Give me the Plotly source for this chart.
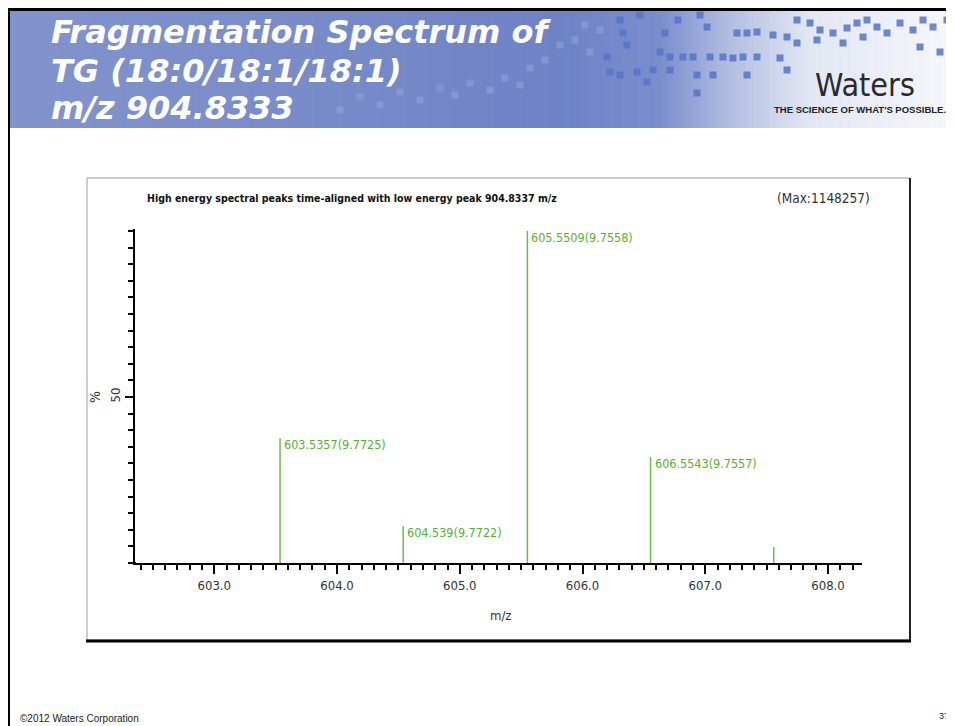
import plotly.graph_objects as go

# ---------------- data ----------------
peak_mz = [603.5357, 604.539, 605.5509, 606.5543, 607.558]
peak_intensity = [37.6, 11.1, 100.0, 31.9, 4.8]
peak_labels = ["603.5357(9.7725)", "604.539(9.7722)", "605.5509(9.7558)", "606.5543(9.7557)", ""]
x_ticks = [603.0, 604.0, 605.0, 606.0, 607.0, 608.0]
y_ticks = [50]

header_lines = ["Fragmentation Spectrum of", "TG (18:0/18:1/18:1)", "m/z 904.8333"]
chart_title = "High energy spectral peaks time-aligned with low energy peak 904.8337 m/z"
max_text = "(Max:1148257)"

# page is offset by the default 8px body margin
OFF = 8
W, H = 954 - OFF, 726 - OFF
def px(x):
    return (x - OFF) / W
def py(y):
    return 1 - (y - OFF) / H

NARROW = "DejaVu Sans Condensed, Liberation Sans Narrow, Liberation Sans, sans-serif"
GREEN_LINE = "#6CBF42"
GREEN_TEXT = "#58B030"

# stems
xs, ys = [], []
for m, v in zip(peak_mz, peak_intensity):
    xs += [m, m, None]
    ys += [0, v, None]

fig = go.Figure()
fig.add_trace(go.Scatter(x=xs, y=ys, mode="lines",
                         line=dict(color=GREEN_LINE, width=1.5),
                         hoverinfo="skip", showlegend=False))

shapes = []
# header gradient
stops = [(10, (130, 147, 204)), (300, (121, 140, 201)), (560, (110, 130, 198)),
         (660, (122, 141, 205)), (730, (178, 190, 226)), (810, (226, 231, 243)),
         (954, (246, 247, 251))]
def col_at(x):
    for (x0, c0), (x1, c1) in zip(stops[:-1], stops[1:]):
        if x0 <= x <= x1:
            t = (x - x0) / (x1 - x0)
            return "rgb(%d,%d,%d)" % tuple(round(a + (b - a) * t) for a, b in zip(c0, c1))
    return "rgb(%d,%d,%d)" % stops[-1][1]
step = 4
x = 10
while x < 954:
    shapes.append(dict(type="rect", xref="paper", yref="paper",
                       x0=px(x), x1=px(min(x + step + 0.5, 954)), y0=py(128), y1=py(11),
                       fillcolor=col_at(x + step / 2), line=dict(width=0), layer="below"))
    x += step

# decorative pixel squares
squares = [
    (623, 33), (665, 33), (678, 20), (707, 27), (737, 33), (747, 33), (757, 32), (773, 35), (787, 37),
    (797, 20), (810, 23), (820, 30), (833, 33), (847, 28), (857, 23), (867, 20), (877, 27), (887, 33),
    (900, 23), (913, 30), (923, 20), (933, 27), (947, 20), (627, 45), (660, 52), (670, 57), (683, 57),
    (693, 57), (710, 57), (723, 57), (733, 58), (743, 57), (757, 57), (780, 58), (797, 43), (817, 40),
    (843, 43), (863, 37), (920, 47), (940, 52), (607, 57), (610, 72), (620, 75), (637, 72), (653, 70),
    (670, 70), (697, 75), (713, 75), (747, 75), (787, 70), (647, 82), (697, 93),
    (560, 45), (575, 40), (590, 52), (545, 60), (530, 68), (600, 30), (585, 25),
    (520, 85), (505, 78), (490, 90), (470, 83), (455, 95), (440, 88), (420, 100),
    (400, 92), (380, 105), (360, 97), (340, 110), (620, 20), (640, 15), (700, 15),
]
for (sx, sy) in squares:
    dark = sx > 600
    shapes.append(dict(type="rect", xref="paper", yref="paper",
                       x0=px(sx - 3.5), x1=px(sx + 3.5), y0=py(sy + 3.5), y1=py(sy - 3.5),
                       fillcolor="rgba(86,115,197,0.85)" if dark else "rgba(150,165,215,0.55)",
                       line=dict(width=0), layer="below"))

# slide borders
shapes.append(dict(type="rect", xref="paper", yref="paper", x0=0, x1=1, y0=py(11), y1=1,
                   fillcolor="black", line=dict(width=0)))
shapes.append(dict(type="rect", xref="paper", yref="paper", x0=0, x1=px(10), y0=0, y1=1,
                   fillcolor="black", line=dict(width=0)))
# chart box
shapes.append(dict(type="rect", xref="paper", yref="paper", x0=px(87), x1=px(910), y0=py(640), y1=py(178),
                   fillcolor="rgba(0,0,0,0)", line=dict(color="#9A9A9A", width=1)))
shapes.append(dict(type="line", xref="paper", yref="paper", x0=px(910), x1=px(910), y0=py(641), y1=py(178),
                   line=dict(color="#222222", width=2)))
shapes.append(dict(type="line", xref="paper", yref="paper", x0=px(86), x1=px(911), y0=py(641), y1=py(641),
                   line=dict(color="black", width=3)))
# small x-axis extension left of the y axis
shapes.append(dict(type="line", xref="paper", yref="paper", x0=px(130), x1=px(136), y0=py(563), y1=py(563),
                   line=dict(color="black", width=2)))

annotations = []
# header title
for t, yc in zip(header_lines, [32, 71, 108]):
    annotations.append(dict(xref="paper", yref="paper", x=px(49), y=py(yc), xanchor="left", yanchor="middle",
                            text="<b><i>%s</i></b>" % t, showarrow=False,
                            font=dict(family="DejaVu Sans, Verdana, sans-serif", size=32, color="white")))
# Waters logo
annotations.append(dict(xref="paper", yref="paper", x=px(865), y=py(85), xanchor="center", yanchor="middle",
                        text="Waters", showarrow=False,
                        font=dict(family="DejaVu Sans Condensed, sans-serif", size=32, color="#2A2A2A")))
annotations.append(dict(xref="paper", yref="paper", x=px(772), y=py(110), xanchor="left", yanchor="middle",
                        text="<b>THE SCIENCE OF WHAT'S POSSIBLE.</b>", showarrow=False,
                        font=dict(family="Liberation Sans, Arial, sans-serif", size=9.5, color="#222222")))
# chart titles
annotations.append(dict(xref="paper", yref="paper", x=px(145), y=py(198), xanchor="left", yanchor="middle",
                        text="<b>%s</b>" % chart_title, showarrow=False,
                        font=dict(family=NARROW, size=10.5, color="#111111")))
annotations.append(dict(xref="paper", yref="paper", x=px(872), y=py(198), xanchor="right", yanchor="middle",
                        text=max_text, showarrow=False,
                        font=dict(family=NARROW, size=13.5, color="#333333")))
# axis titles
annotations.append(dict(xref="paper", yref="paper", x=px(500), y=py(615), xanchor="center", yanchor="middle",
                        text="m/z", showarrow=False, font=dict(family=NARROW, size=13, color="#333333")))
annotations.append(dict(xref="paper", yref="paper", x=px(95), y=py(397), xanchor="center", yanchor="middle",
                        text="%", textangle=-90, showarrow=False,
                        font=dict(family=NARROW, size=14, color="#333333")))
# peak labels
for m, v, lab in zip(peak_mz, peak_intensity, peak_labels):
    if lab:
        annotations.append(dict(x=m, y=v, xref="x", yref="y", xanchor="left", yanchor="top",
                                xshift=3, yshift=2, borderpad=0, text=lab, showarrow=False,
                                font=dict(family=NARROW, size=12.5, color=GREEN_TEXT)))
# footer
annotations.append(dict(xref="paper", yref="paper", x=px(18), y=py(718), xanchor="left", yanchor="middle",
                        text="©2012 Waters Corporation", showarrow=False,
                        font=dict(family="Liberation Sans, Arial, sans-serif", size=10, color="#222222")))
annotations.append(dict(xref="paper", yref="paper", x=px(951), y=py(716), xanchor="right", yanchor="middle",
                        text="37", showarrow=False,
                        font=dict(family="Liberation Sans, Arial, sans-serif", size=9, color="#222222")))

fig.update_layout(
    width=W, height=H,
    margin=dict(l=0, r=0, t=0, b=0),
    paper_bgcolor="white", plot_bgcolor="white",
    shapes=shapes, annotations=annotations,
    showlegend=False,
    xaxis=dict(domain=[px(135), px(862)], range=[602.354, 608.277],
               tickvals=x_ticks, ticktext=["%.1f" % v for v in x_ticks],
               ticks="outside", ticklen=9, tickwidth=1.5, tickcolor="black",
               showline=True, linecolor="black", linewidth=2,
               showgrid=False, zeroline=False,
               minor=dict(dtick=0.1, tick0=603.0, ticks="outside", ticklen=5, tickwidth=1.5,
                          tickcolor="black", showgrid=False),
               tickfont=dict(family=NARROW, size=13, color="#333333")),
    yaxis=dict(domain=[py(563), py(229)], range=[0, 100.6],
               tickvals=y_ticks, ticktext=[str(v) for v in y_ticks], tickangle=-90,
               ticks="outside", ticklen=8, tickwidth=1.5, tickcolor="black",
               showline=True, linecolor="black", linewidth=2,
               showgrid=False, zeroline=False,
               minor=dict(dtick=5, tick0=0, ticks="outside", ticklen=5, tickwidth=1.5,
                          tickcolor="black", showgrid=False),
               tickfont=dict(family=NARROW, size=13, color="#333333")),
)

fig.write_html("out.html")
